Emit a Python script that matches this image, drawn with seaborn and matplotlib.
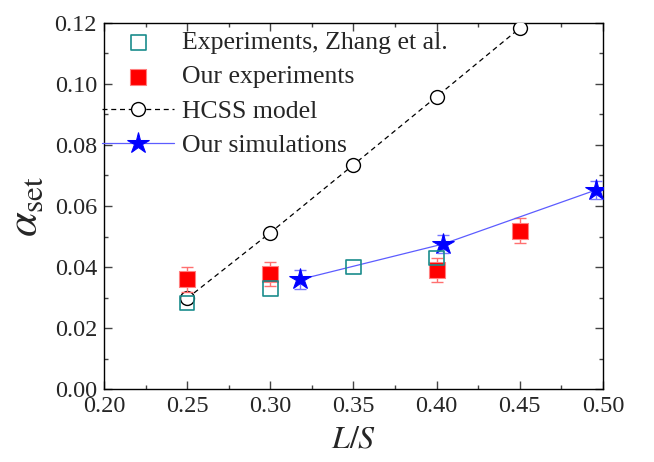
import matplotlib
matplotlib.use("Agg")
import matplotlib.pyplot as plt
import seaborn as sns
import numpy as np
import pandas as pd

# Data
zhang_x = [0.25, 0.30, 0.35, 0.40]
zhang_y = [0.0283, 0.0330, 0.0400, 0.0430]

ours_x = [0.25, 0.30, 0.40, 0.45]
ours_y = [0.0360, 0.0378, 0.0390, 0.0520]
ours_err = [0.004, 0.004, 0.004, 0.004]

hcss_x = [0.25, 0.30, 0.35, 0.40, 0.45]
hcss_y = [0.0298, 0.0513, 0.0735, 0.0958, 0.1182]

sim_x = [0.318, 0.404, 0.496]
sim_y = [0.0360, 0.0476, 0.0653]
sim_err = [0.003, 0.003, 0.003]

sns.set_style("ticks")
plt.rcParams['font.family'] = ['Liberation Serif', 'DejaVu Serif']
plt.rcParams['mathtext.fontset'] = 'stix'

fig = plt.figure(figsize=(6.54, 4.62), dpi=100)
ax = fig.add_axes([0.159, 0.157, 0.763, 0.794])

teal = '#1a8c8c'
red = '#ff0000'
blue = '#0000ff'

# HCSS model
df_h = pd.DataFrame({'x': hcss_x, 'y': hcss_y})
sns.lineplot(data=df_h, x='x', y='y', ax=ax, color='black', lw=0.9,
             linestyle=(0, (4, 3)), marker='o', markersize=10,
             markerfacecolor='white', markeredgecolor='black',
             markeredgewidth=1.0, label='HCSS model', zorder=3)

# Simulations
ax.errorbar(sim_x, sim_y, yerr=sim_err, fmt='none', ecolor='#7777ff',
            elinewidth=1.0, capsize=4, capthick=1.0, zorder=4)
df_s = pd.DataFrame({'x': sim_x, 'y': sim_y})
sns.lineplot(data=df_s, x='x', y='y', ax=ax, color='#5c5cff', lw=0.9,
             marker='*', markersize=16, markerfacecolor=blue,
             markeredgecolor=blue, label='Our simulations', zorder=5)

# Our experiments
ax.errorbar(ours_x, ours_y, yerr=ours_err, fmt='none', ecolor='#ff7070',
            elinewidth=1.0, capsize=4, capthick=1.0, zorder=4)
df_o = pd.DataFrame({'x': ours_x, 'y': ours_y})
sns.scatterplot(data=df_o, x='x', y='y', ax=ax, marker='s', s=120,
                color=red, edgecolor='#ff8080', linewidth=0.8,
                label='Our experiments', zorder=6)

# Zhang experiments
df_z = pd.DataFrame({'x': zhang_x, 'y': zhang_y})
sns.scatterplot(data=df_z, x='x', y='y', ax=ax, marker='s', s=110,
                facecolor='none', edgecolor=teal, linewidth=1.2,
                label='Experiments, Zhang et al.', zorder=7)

ax.set_xlim(0.20, 0.50)
ax.set_ylim(0.0, 0.12)
ax.set_xticks(np.arange(0.20, 0.501, 0.05))
ax.set_yticks(np.arange(0.0, 0.1201, 0.02))
ax.set_xticks(np.arange(0.225, 0.5, 0.05), minor=True)
ax.set_yticks(np.arange(0.01, 0.12, 0.02), minor=True)
ax.xaxis.set_major_formatter(matplotlib.ticker.FormatStrFormatter('%.2f'))
ax.yaxis.set_major_formatter(matplotlib.ticker.FormatStrFormatter('%.2f'))
ax.tick_params(which='both', direction='in', top=True, right=True,
               labelsize=17.5, width=1.0, color='#444444')
ax.tick_params(which='major', length=6, pad=5)
ax.tick_params(which='minor', length=3)
for sp in ax.spines.values():
    sp.set_linewidth(1.0)
    sp.set_color('black')

ax.set_xlabel(r'$L/S$', fontsize=23, labelpad=6)
ax.set_ylabel(r'$\alpha_{\mathrm{set}}$', fontsize=32, labelpad=6)

handles, labels = ax.get_legend_handles_labels()
order = ['Experiments, Zhang et al.', 'Our experiments', 'HCSS model', 'Our simulations']
hmap = dict(zip(labels, handles))
ax.legend([hmap[k] for k in order], order, loc='upper left',
          bbox_to_anchor=(-0.003, 0.977), frameon=False, fontsize=18.5,
          handlelength=2.8, handletextpad=0.3, labelspacing=0.44,
          borderaxespad=0.0, borderpad=0.0)

fig.savefig('out.png', dpi=100)
